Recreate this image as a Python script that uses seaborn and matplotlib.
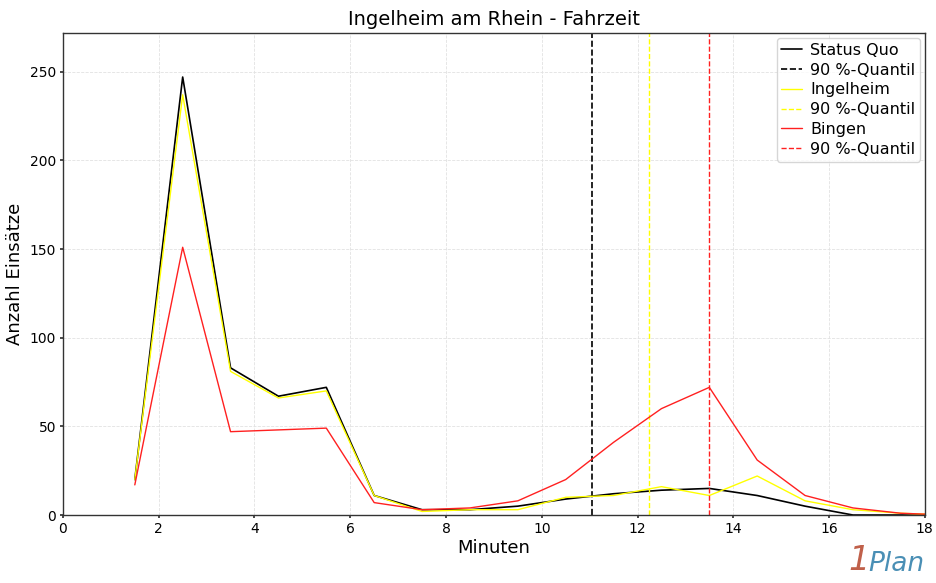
import pandas as pd
import matplotlib
matplotlib.use("Agg")
import matplotlib.pyplot as plt
import seaborn as sns

# Fahrzeit in Minuten (Klassenmitten)
minuten = [1.5, 2.5, 3.5, 4.5, 5.5, 6.5, 7.5, 8.5, 9.5, 10.5, 11.5, 12.5, 13.5, 14.5, 15.5, 16.5, 17.5, 18.5]
status_quo = [20, 247, 83, 67, 72, 11, 3, 3, 5, 9, 12, 14, 15, 11, 5, 0, 0, 0]
ingelheim = [20, 237, 81, 66, 70, 11, 2, 3, 3, 10, 11, 16, 11, 22, 8, 3, 1, 0]
bingen = [17, 151, 47, 48, 49, 7, 3, 4, 8, 20, 41, 60, 72, 31, 11, 4, 1, 0]

# 90 %-Quantile
q_status_quo = 11.04
q_ingelheim = 12.23
q_bingen = 13.5

sns.set_theme(style="white")
plt.rcParams.update({
    "font.family": ["DejaVu Sans"],
    "axes.edgecolor": "#333333",
    "axes.linewidth": 1.0,
    "xtick.bottom": True,
    "ytick.left": True,
    "xtick.color": "#333333",
    "ytick.color": "#333333",
    "xtick.labelcolor": "black",
    "ytick.labelcolor": "black",
    "text.color": "black",
    "axes.labelcolor": "black",
})

df = pd.DataFrame({
    "Minuten": minuten * 3,
    "Anzahl": status_quo + ingelheim + bingen,
    "Szenario": ["Status Quo"] * len(minuten) + ["Ingelheim"] * len(minuten) + ["Bingen"] * len(minuten),
})
colors = {"Status Quo": "black", "Ingelheim": "#ffff00", "Bingen": "#ff2020"}
quantile = {"Status Quo": q_status_quo, "Ingelheim": q_ingelheim, "Bingen": q_bingen}

fig, ax = plt.subplots(figsize=(9.36, 5.83), dpi=100)
fig.subplots_adjust(left=0.0673, right=0.988, top=0.943, bottom=0.1166)

for name in ["Status Quo", "Ingelheim", "Bingen"]:
    sub = df[df["Szenario"] == name]
    lw = 1.2 if name == "Status Quo" else 1.0
    sns.lineplot(data=sub, x="Minuten", y="Anzahl", color=colors[name], linewidth=lw,
                 label=name, ax=ax)
    ax.axvline(quantile[name], color=colors[name], linestyle="--", linewidth=lw,
               label="90 %-Quantil")

ax.set_xlim(0, 18)
ax.set_ylim(0, max(status_quo) * 1.1)
ax.set_xticks(range(0, 19, 2))
ax.set_yticks(range(0, 251, 50))
ax.grid(True, color="#e2e2e2", linestyle="--", linewidth=0.6)
ax.tick_params(axis="both", labelsize=10, length=2.5, pad=2.5)

ax.set_title("Ingelheim am Rhein - Fahrzeit", fontsize=14)
ax.set_xlabel("Minuten", fontsize=13, labelpad=2)
ax.set_ylabel("Anzahl Einsätze", fontsize=13, labelpad=4)

ax.legend(loc="upper right", fontsize=11.5, frameon=True, fancybox=True,
          handlelength=1.3, handletextpad=0.5, borderaxespad=0.3, labelspacing=0.3,
          borderpad=0.3)

# Logo unten rechts
fig.text(0.906, 0.01, "1", fontsize=24, color="#c0604a", style="italic", ha="left", va="bottom")
fig.text(0.928, 0.01, "Plan", fontsize=19, color="#4a8fb5", style="italic", ha="left", va="bottom")

fig.savefig("out.png", dpi=100)
